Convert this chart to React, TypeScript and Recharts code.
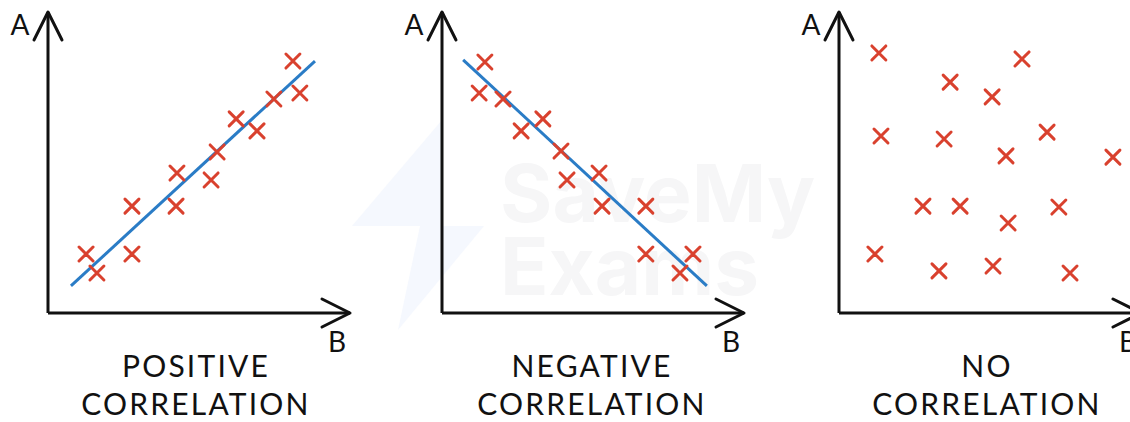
import { ScatterChart, Scatter, XAxis, YAxis, ReferenceLine } from 'recharts'

// values, axes run 0..10 on both sides
const positiveB = [1.26, 1.62, 2.78, 2.78, 4.27, 4.24, 5.4, 5.6, 6.23, 6.92, 7.48, 8.11, 8.34]
const positiveA = [1.96, 1.33, 3.55, 1.96, 4.65, 3.55, 4.42, 5.35, 6.45, 6.05, 7.11, 8.37, 7.31]
const positiveFitB = [0.76, 8.84]
const positiveFitA = [0.9, 8.37]

const negativeB = [1.42, 1.23, 2.02, 2.62, 3.34, 3.94, 4.14, 5.2, 5.3, 6.75, 6.75, 8.31, 7.88]
const negativeA = [8.34, 7.31, 7.11, 6.05, 6.45, 5.38, 4.42, 4.65, 3.55, 3.55, 1.96, 1.96, 1.33]
const negativeFitB = [0.7, 8.77]
const negativeFitA = [8.41, 0.9]

const noneB = [1.32, 6.06, 3.68, 5.07, 1.39, 3.48, 6.89, 5.53, 9.07, 2.78, 4.01, 7.28, 5.6, 1.19, 3.31, 5.1, 7.65]
const noneA = [8.64, 8.44, 7.67, 7.18, 5.88, 5.78, 6.01, 5.22, 5.18, 3.55, 3.55, 3.52, 2.99, 1.96, 1.4, 1.56, 1.33]

const titles = [
  ['POSITIVE', 'CORRELATION'],
  ['NEGATIVE', 'CORRELATION'],
  ['NO', 'CORRELATION'],
]

const RED = '#d9412e'
const BLUE = '#2a7cc6'
const INK = '#111'
const FONT = 'Lato, "DejaVu Sans", sans-serif'

const Cross = (props: any) => {
  const { cx, cy } = props
  if (cx == null || cy == null) return null
  const r = 7
  return (
    <path
      d={`M${cx - r},${cy - r}L${cx + r},${cy + r}M${cx + r},${cy - r}L${cx - r},${cy + r}`}
      stroke={RED}
      strokeWidth={3}
      strokeLinecap="round"
      fill="none"
    />
  )
}

interface PanelProps {
  id: string
  left: number
  bs: number[]
  as: number[]
  fitB?: number[]
  fitA?: number[]
}

function Panel({ id, left, bs, as, fitB, fitA }: PanelProps) {
  const data = bs.map((b, i) => ({ b, a: as[i] }))
  return (
    <div style={{ position: 'absolute', left, top: 0 }}>
      <ScatterChart width={400} height={340} margin={{ top: 12, right: 50, bottom: 26, left: 47 }}>
        <defs>
          <marker
            id={id}
            markerUnits="userSpaceOnUse"
            markerWidth={40}
            markerHeight={40}
            refX={28}
            refY={14}
            orient="auto-start-reverse"
            overflow="visible"
          >
            <path d="M0,0 L28,14 L0,28" fill="none" stroke={INK} strokeWidth={3} strokeLinejoin="round" strokeLinecap="round" />
          </marker>
        </defs>
        <XAxis
          type="number"
          dataKey="b"
          domain={[0, 10]}
          height={1}
          tick={false}
          tickLine={false}
          axisLine={{ stroke: INK, strokeWidth: 3, markerEnd: `url(#${id})` }}
        />
        <YAxis
          type="number"
          dataKey="a"
          domain={[0, 10]}
          width={1}
          tick={false}
          tickLine={false}
          axisLine={{ stroke: INK, strokeWidth: 3, markerStart: `url(#${id})` }}
        />
        {fitB && fitA && (
          <ReferenceLine
            segment={[
              { x: fitB[0], y: fitA[0] },
              { x: fitB[1], y: fitA[1] },
            ]}
            stroke={BLUE}
            strokeWidth={3}
          />
        )}
        <Scatter data={data} shape={Cross} isAnimationActive={false} />
      </ScatterChart>
    </div>
  )
}

const panelAxisX = [48, 442, 839]
const titleCenters = [196, 592, 987]

export default function App() {
  return (
    <div
      style={{
        position: 'absolute',
        left: 0,
        top: 0,
        width: 1130,
        height: 422,
        overflow: 'hidden',
        background: '#fff',
      }}
    >
      <svg width={1130} height={422} style={{ position: 'absolute', left: 0, top: 0 }}>
        <polygon points="442,120 352,226 442,226" fill="#f5f8fe" />
        <polygon points="442,226 484,226 398,330 420,226" fill="#f5f8fe" />
        <text x={500} y={222} fontFamily="Inter, sans-serif" fontWeight={700} fontSize={80} fill="#f6f6f7">
          SaveMy
        </text>
        <text x={500} y={295} fontFamily="Inter, sans-serif" fontWeight={700} fontSize={80} fill="#f6f6f7">
          Exams
        </text>
      </svg>
      <Panel id="arr1" left={panelAxisX[0] - 48} bs={positiveB} as={positiveA} fitB={positiveFitB} fitA={positiveFitA} />
      <Panel id="arr2" left={panelAxisX[1] - 48} bs={negativeB} as={negativeA} fitB={negativeFitB} fitA={negativeFitA} />
      <Panel id="arr3" left={panelAxisX[2] - 48} bs={noneB} as={noneA} />
      <svg width={1130} height={422} style={{ position: 'absolute', left: 0, top: 0, pointerEvents: 'none' }}>
        {panelAxisX.map((ax, i) => (
          <g key={i} fontFamily={FONT} fontWeight={400} fill="#111" textAnchor="middle">
            <text x={ax - 28} y={35} fontSize={28}>A</text>
            <text x={ax + 289} y={352} fontSize={28}>B</text>
            <text x={titleCenters[i]} y={377} fontSize={30} letterSpacing={2.2}>{titles[i][0]}</text>
            <text x={titleCenters[i]} y={415} fontSize={30} letterSpacing={2.2}>{titles[i][1]}</text>
          </g>
        ))}
      </svg>
    </div>
  )
}
